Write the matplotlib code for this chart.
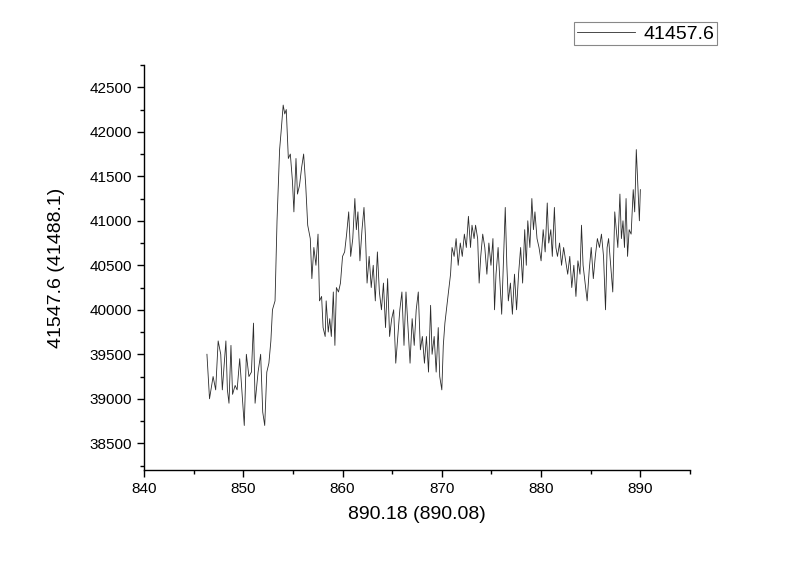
import matplotlib
matplotlib.use('Agg')
import matplotlib.pyplot as plt
from matplotlib.ticker import MultipleLocator

plt.rcParams['font.family'] = ['Liberation Sans', 'DejaVu Sans']

# values
wavelength = [
    846.34, 846.60, 846.96, 847.22, 847.47, 847.73, 847.89, 848.09, 848.25, 848.40,
    848.56, 848.76, 848.92, 849.18, 849.38, 849.64, 849.79, 850.10, 850.31, 850.57,
    850.82, 851.03, 851.19, 851.49, 851.75, 851.96, 852.16, 852.37, 852.58, 852.78,
    852.94, 853.20, 853.40, 853.66, 853.81, 854.02, 854.18, 854.33, 854.54, 854.74,
    854.95, 855.10, 855.31, 855.46, 855.67, 855.88, 856.08, 856.29, 856.49, 856.75,
    856.91, 857.11, 857.32, 857.53, 857.68, 857.89, 858.04, 858.25, 858.35, 858.56,
    858.71, 858.87, 859.07, 859.23, 859.38, 859.59, 859.79, 860.00, 860.21, 860.41,
    860.62, 860.82, 861.03, 861.24, 861.39, 861.55, 861.75, 861.96, 862.16, 862.32,
    862.47, 862.68, 862.89, 863.09, 863.30, 863.51, 863.71, 863.92, 864.12, 864.33,
    864.54, 864.74, 864.95, 865.15, 865.36, 865.57, 865.77, 865.98, 866.19, 866.39,
    866.60, 866.80, 867.01, 867.22, 867.42, 867.63, 867.84, 868.04, 868.25, 868.45,
    868.66, 868.87, 869.02, 869.23, 869.43, 869.64, 869.79, 870.00, 870.15, 870.31,
    870.46, 870.67, 870.88, 871.03, 871.24, 871.44, 871.65, 871.86, 872.06, 872.27,
    872.47, 872.68, 872.89, 873.04, 873.25, 873.40, 873.61, 873.76, 873.92, 874.12,
    874.33, 874.54, 874.74, 874.95, 875.15, 875.31, 875.46, 875.67, 875.88, 876.03,
    876.19, 876.39, 876.55, 876.70, 876.91, 877.11, 877.32, 877.53, 877.73, 877.94,
    878.14, 878.35, 878.51, 878.66, 878.87, 879.07, 879.23, 879.38, 879.59, 879.79,
    880.00, 880.21, 880.41, 880.62, 880.77, 880.98, 881.13, 881.34, 881.49, 881.65,
    881.86, 882.06, 882.27, 882.47, 882.68, 882.89, 883.09, 883.30, 883.51, 883.71,
    883.92, 884.07, 884.23, 884.43, 884.64, 884.85, 885.05, 885.26, 885.46, 885.67,
    885.88, 886.08, 886.29, 886.49, 886.65, 886.80, 887.01, 887.22, 887.42, 887.58,
    887.73, 887.94, 888.09, 888.25, 888.40, 888.56, 888.71, 888.87, 889.07, 889.28,
    889.43, 889.59, 889.74, 889.90, 890.00,
]
intensity = [
    39500, 39000, 39250, 39100, 39650, 39500, 39100, 39400, 39650, 39100,
    38950, 39600, 39050, 39150, 39100, 39450, 39200, 38700, 39500, 39250,
    39300, 39850, 38950, 39300, 39500, 38850, 38700, 39300, 39400, 39650,
    40000, 40100, 41000, 41800, 42000, 42300, 42200, 42250, 41700, 41750,
    41450, 41100, 41700, 41300, 41400, 41600, 41750, 41400, 40950, 40800,
    40350, 40700, 40500, 40850, 40100, 40150, 39800, 39700, 40100, 39750,
    39900, 39700, 40200, 39600, 40250, 40200, 40300, 40600, 40650, 40850,
    41100, 40600, 40800, 41250, 40900, 41100, 40550, 40900, 41150, 40800,
    40300, 40600, 40250, 40500, 40100, 40650, 40200, 40000, 40300, 39800,
    40350, 39700, 39900, 40000, 39400, 39700, 40000, 40200, 39600, 40200,
    39800, 39400, 39900, 39600, 40000, 40200, 39550, 39700, 39400, 39700,
    39300, 40050, 39500, 39700, 39300, 39800, 39250, 39100, 39600, 39850,
    40000, 40200, 40400, 40700, 40600, 40800, 40500, 40750, 40600, 40850,
    40700, 41050, 40700, 40950, 40800, 40950, 40800, 40300, 40600, 40850,
    40700, 40400, 40750, 40500, 40800, 40000, 40400, 40700, 40250, 39950,
    40500, 41150, 40500, 40100, 40300, 39950, 40400, 40000, 40400, 40700,
    40300, 40900, 40500, 41000, 40700, 41250, 40900, 41100, 40800, 40700,
    40550, 40900, 40650, 41200, 40750, 40900, 40600, 41150, 40700, 40600,
    40750, 40500, 40700, 40550, 40400, 40600, 40250, 40500, 40150, 40550,
    40400, 40950, 40500, 40300, 40100, 40450, 40700, 40350, 40600, 40800,
    40700, 40850, 40600, 40000, 40700, 40800, 40500, 40200, 41100, 40900,
    40700, 41300, 40800, 41000, 40700, 41250, 40600, 40900, 40850, 41350,
    41100, 41800, 41400, 41000, 41350,
]
series_label = '41457.6'
x_title = '890.18 (890.08)'
y_title = '41547.6 (41488.1)'

fig = plt.figure(figsize=(8, 5.64), dpi=100)
ax = fig.add_axes([0.18, 0.1667, 0.6825, 0.718])

ax.plot(wavelength, intensity, color='#2b2b2b', linewidth=0.6, label=series_label)

ax.set_xlim(840, 895)
ax.set_ylim(38200, 42750)
ax.xaxis.set_major_locator(MultipleLocator(10))
ax.xaxis.set_minor_locator(MultipleLocator(5))
ax.yaxis.set_major_locator(MultipleLocator(500))
ax.yaxis.set_minor_locator(MultipleLocator(250))

# Origin-like axes: only left and bottom, ticks pointing out
for side in ('top', 'right'):
    ax.spines[side].set_visible(False)
for side in ('left', 'bottom'):
    ax.spines[side].set_linewidth(1.0)
ax.tick_params(which='major', direction='out', length=5, width=1, labelsize=11)
ax.tick_params(which='minor', direction='out', length=3, width=1)

ax.set_xlabel(x_title, fontsize=14)
ax.set_ylabel(y_title, fontsize=14)
ax.xaxis.set_label_coords(0.5, -0.088)
ax.yaxis.set_label_coords(-0.145, 0.5)

leg = ax.legend(loc='upper right', bbox_to_anchor=(0.896, 0.961),
                bbox_transform=fig.transFigure, fontsize=14, frameon=True,
                fancybox=False, framealpha=1, edgecolor='#888888',
                handlelength=3.0, handletextpad=0.4, borderpad=0.15,
                borderaxespad=0)
leg.get_frame().set_linewidth(0.8)

fig.savefig('out.png', dpi=100)
